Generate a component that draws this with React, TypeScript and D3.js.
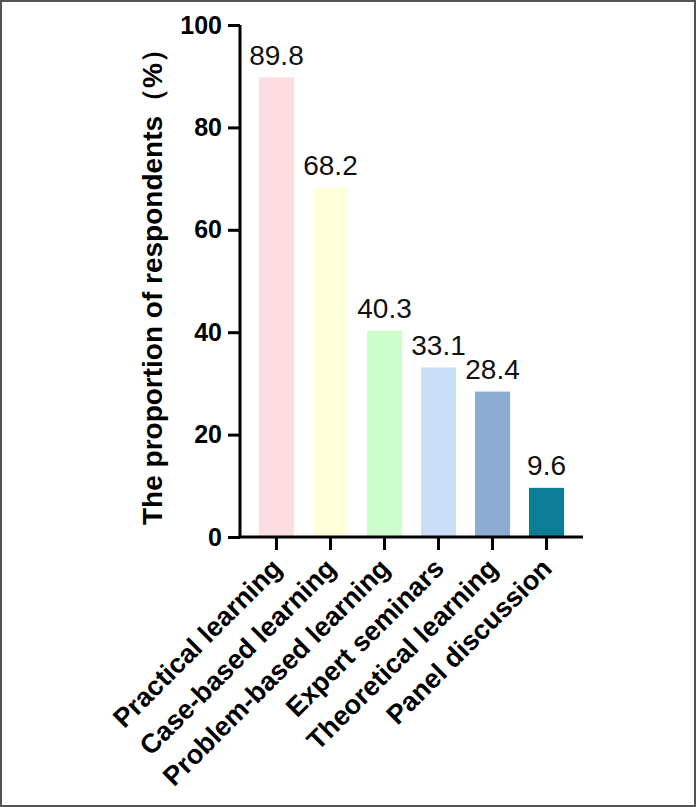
import React, { useEffect, useRef } from 'react';
import * as d3 from 'd3';

// Teaching methods preferred by respondents
const categories = [
  'Practical learning',
  'Case-based learning',
  'Problem-based learning',
  'Expert seminars',
  'Theoretical learning',
  'Panel discussion',
];
const proportions = [89.8, 68.2, 40.3, 33.1, 28.4, 9.6];
const barColors = ['#fddde1', '#ffffdc', '#ccfdcb', '#c8ddf6', '#8cabd3', '#0c7d96'];
const yTicks = [0, 20, 40, 60, 80, 100];

const W = 696;
const H = 807;
const FONT = 'Arial, "Liberation Sans", Helvetica, sans-serif';

const App = () => {
  const svgRef = useRef<SVGSVGElement | null>(null);

  useEffect(() => {
    const svg = d3.select(svgRef.current);
    svg.selectAll('*').remove();

    // frame around the figure
    svg.append('rect')
      .attr('x', 1).attr('y', 1)
      .attr('width', W - 2).attr('height', H - 2)
      .attr('fill', '#fff')
      .attr('stroke', '#555')
      .attr('stroke-width', 2);

    const left = 240;
    const right = 583;
    const top = 25;
    const bottom = 537;

    const x = d3.scaleBand<string>()
      .domain(categories)
      .range([left, right])
      .padding(0.35);

    const y = d3.scaleLinear()
      .domain([0, 100])
      .range([bottom, top]);

    // bars
    svg.append('g')
      .selectAll('rect')
      .data(proportions)
      .enter()
      .append('rect')
      .attr('x', (d, i) => x(categories[i])!)
      .attr('width', x.bandwidth())
      .attr('y', d => y(d))
      .attr('height', d => bottom - y(d))
      .attr('fill', (d, i) => barColors[i]);

    // value labels
    svg.append('g')
      .selectAll('text')
      .data(proportions)
      .enter()
      .append('text')
      .attr('x', (d, i) => x(categories[i])! + x.bandwidth() / 2)
      .attr('y', d => y(d) - 12.5)
      .attr('text-anchor', 'middle')
      .attr('font-family', FONT)
      .attr('font-size', 28)
      .attr('fill', '#111')
      .text(d => d.toFixed(1));

    // y axis
    const yAxis = svg.append('g')
      .attr('transform', `translate(${left},0)`)
      .call(d3.axisLeft(y).tickValues(yTicks).tickSize(12).tickPadding(6));
    yAxis.select('.domain').attr('stroke', '#000').attr('stroke-width', 3)
      .attr('d', `M0,${top}V${bottom}`);
    yAxis.selectAll('.tick line').attr('stroke', '#000').attr('stroke-width', 3);
    yAxis.selectAll('.tick text')
      .attr('font-family', FONT)
      .attr('font-size', 25)
      .attr('font-weight', 'bold')
      .attr('fill', '#000');

    // x axis
    const xAxis = svg.append('g')
      .attr('transform', `translate(0,${bottom})`)
      .call(d3.axisBottom(x).tickSize(13).tickFormat(() => ''));
    xAxis.select('.domain').attr('stroke', '#000').attr('stroke-width', 3)
      .attr('d', `M${left - 1.5},0H${right}`);
    xAxis.selectAll('.tick line').attr('stroke', '#000').attr('stroke-width', 3);

    // rotated category labels
    svg.append('g')
      .selectAll('text')
      .data(categories)
      .enter()
      .append('text')
      .attr('transform', d => `translate(${x(d)! + x.bandwidth() / 2 + 7},${bottom + 33}) rotate(-45)`)
      .attr('text-anchor', 'end')
      .attr('font-family', FONT)
      .attr('font-size', 27)
      .attr('font-weight', 'bold')
      .attr('fill', '#000')
      .text(d => d);

    // y axis title
    svg.append('text')
      .attr('transform', `translate(162,280) rotate(-90)`)
      .attr('text-anchor', 'middle')
      .attr('font-family', FONT)
      .attr('font-size', 28)
      .attr('font-weight', 'bold')
      .attr('fill', '#000')
      .text('The proportion of respondents（%）');
  }, []);

  return (
    <svg
      ref={svgRef}
      width={W}
      height={H}
      style={{ position: 'absolute', left: 0, top: 0 }}
    />
  );
};

export default App;
